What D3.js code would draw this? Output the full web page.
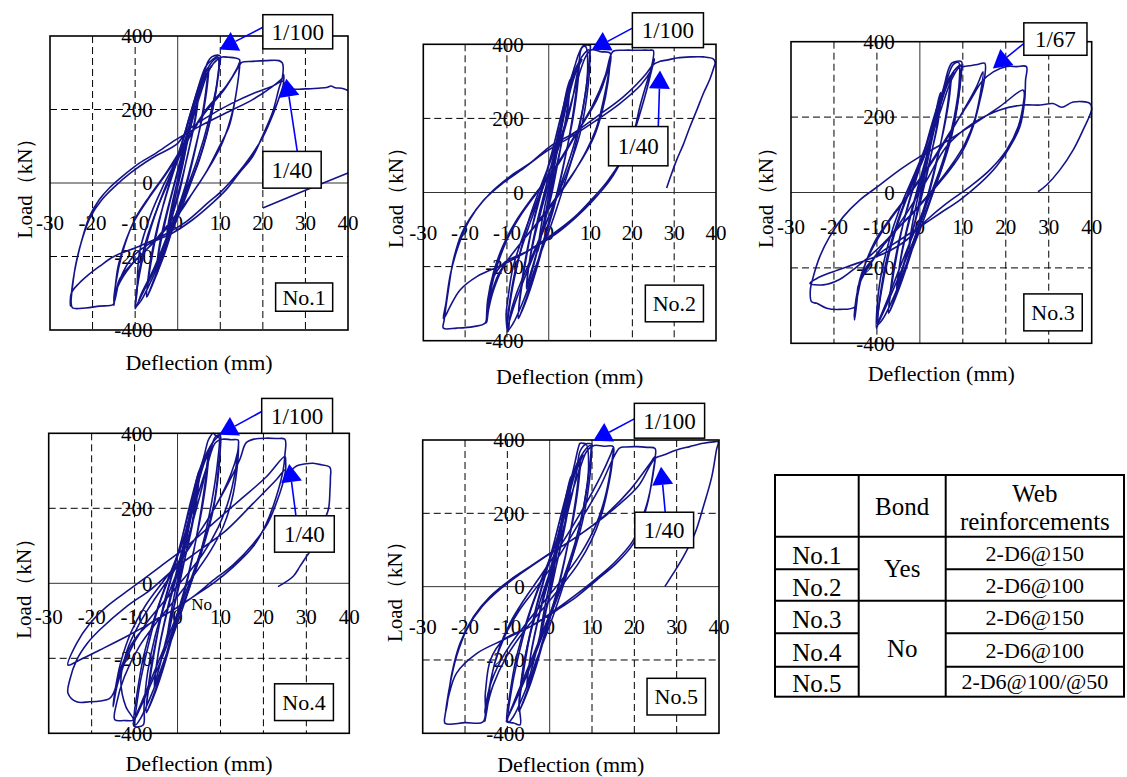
<!DOCTYPE html>
<html><head><meta charset="utf-8">
<script src="https://cdn.jsdelivr.net/npm/d3@7/dist/d3.min.js"></script>
<style>body{margin:0;background:#fff} text{font-family:"Liberation Serif","Times New Roman",serif;fill:#000}</style>
</head><body><svg id="c" width="1127" height="777"></svg>
<script>
// ---------------- DATA ----------------
const xTicks = [-30,-20,-10,0,10,20,30,40];
const yTicks = [-400,-200,0,200,400];
const gridX = [-20,-10,10,20,30];
const gridY = [-200,200];
const xTitle = "Deflection (mm)";
const yTitle = "Load（kN）";

// Specimen No.1: deflection (mm), load (kN)
const no1Path = [
 [0,0],[0.8,50],[1.6,100],[2.4,150],[2.2,120],[1.2,50],[0,-10],[-1,-60],[-2,-115],[-2.6,-150],[-2.2,-110],[-1,-40],[0,10],[1.2,70],[2.4,140],
 [3.4,190],[4.3,240],[5,262],[4.6,215],[3.5,140],[2,60],[0.5,-20],[-1,-80],[-2.6,-150],[-4,-210],[-5,-250],[-4.6,-200],[-3.4,-130],[-1.8,-50],[0,30],[1.8,110],[3.5,190],[4.8,250],
 [4.4,190],[3,110],[1.4,30],[-0.4,-50],[-2.4,-140],[-4,-205],[-4.9,-240],[-4.3,-170],[-2.8,-90],[-1,-10],[1,80],[3,170],[4.8,245],
 [6,290],[7.1,330],[8,343],[9.4,348],[10,345],[9.8,317],[8.2,199],[5.1,63],[2,-27],[-1.2,-118],[-5,-227],[-8.2,-299],[-9.7,-335],[-10,-342],[-9.6,-300],[-9,-190],[-6.2,-82],[-3.5,-10],[-0.4,63],[3.5,208],[6.6,317],[8.2,336],[9.4,343],
 [9.6,300],[7.5,180],[4.5,60],[1.2,-40],[-2,-130],[-5.5,-230],[-8.5,-300],[-9.8,-338],[-9.3,-260],[-7.5,-160],[-4.5,-60],[-1.5,20],[2,120],[5,230],[7.5,310],[9.5,338],[10.5,343],
 [12,342],[13.5,340],[14.5,336],[14.5,317],[14,264],[12.1,155],[9.8,100],[6.6,28],[3.5,-27],[0.4,-82],[-5,-154],[-10.6,-218],[-13.7,-263],[-14.8,-318],[-15,-333],[-14.8,-299],[-14,-227],[-12.1,-154],[-9.7,-91],[-6.7,-37],[-2.7,28],[1.2,100],[6.6,199],[11.4,264],[14,313],[14.6,330],
 [14.3,290],[13,200],[10.5,110],[7,35],[3,-35],[-1,-95],[-6,-165],[-11,-225],[-14,-280],[-15,-325],[-14.5,-270],[-13,-190],[-10.5,-110],[-7,-45],[-3,20],[1,90],[6,185],[11,255],[14.5,320],[15,328],
 [17.6,331],[20.7,333],[23.8,333],[24.6,326],[24.6,288],[23.8,258],[22.3,193],[20,130],[17.6,72],[14.5,28],[11.4,-18],[8.2,-54],[3.5,-100],[-1.2,-136],[-6.6,-165],[-10.5,-200],[-13.5,-260],[-14.8,-320],[-15.2,-331],[-18.4,-335],[-21.6,-340],[-24.7,-340],[-25,-330],[-25,-308],[-24.3,-245],[-22.7,-163],[-20.7,-91],[-18.4,-45],[-16,-13],[-13,18],[-9,54],[-5,82],[-0.4,118],[5.1,154],[11.4,191],[17.6,227],[22.3,263],[24.6,286],[24.9,295],
 [24.8,268],[24,238],[22.5,190],[20,125],[17,70],[14,25],[10.5,-20],[7,-55],[2,-105],[-3,-140],[-9,-172],[-15,-200],[-18.4,-227],[-21,-250],[-23.1,-272],[-25,-300],[-25.2,-335],[-24.8,-290],[-24,-225],[-22.5,-155],[-20.5,-92],[-18,-48],[-15,-12],[-11,28],[-6,68],[0,108],[2,140],[7,180],[12.9,218],[18,245],[22.5,265],[24.6,277],
 [25.5,265],[27,256],[30,256],[33,258],[35,260],[36,264],[37,259],[38.5,258],[40,252]
];
const no1Extra = [
 [0,0],[1.5,70],[3,150],[4.5,220],[6,280],[7,310],[6.6,250],[5.2,150],[3.5,60],[1.5,-30],[-0.8,-110],[-3,-190],[-5,-250],[-6.8,-300],[-7.3,-310],[-6.6,-240],[-5.2,-150],[-3.4,-60],[-1.4,20],[0.8,100],[3,190],[5.2,270],[7.2,315],[7,270],[5.8,180],[4,90],[2,0],[-0.5,-90],[-3,-180],[-5.5,-260],[-7.2,-305],[-6.5,-220],[-4.8,-120],[-2.6,-30],[-0.2,60],[2.4,160],[4.6,240],[6.5,300],[8.5,335],[9.6,340],[9.3,280],[8,190],[6,100],[3.4,10],[0.5,-80],[-2.8,-170],[-6,-260],[-8.6,-320],[-9.8,-335],[-9,-250],[-7,-150],[-4.5,-60],[-1.8,20],[1.2,100],[4,200],[6.2,280],[8,320]
];
const no1Tail = [[20,-68],[30,-20],[40,27]];

const no2Path = [
 [0,0],[0.8,60],[1.6,120],[2.4,170],[2.1,130],[1,50],[0,-10],[-1,-70],[-2,-130],[-2.6,-160],[-2.1,-110],[-0.8,-30],[0.4,30],[1.6,110],[2.6,170],
 [3.5,230],[4.4,280],[5.1,305],[4.7,250],[3.5,160],[2,70],[0.4,-20],[-1.2,-90],[-3,-170],[-4.4,-230],[-5.3,-260],[-4.8,-200],[-3.4,-120],[-1.6,-40],[0.3,40],[2.2,130],[3.8,220],[5,290],
 [4.5,220],[3,130],[1.2,40],[-0.6,-50],[-2.6,-150],[-4.4,-220],[-5.2,-250],[-4.4,-170],[-2.8,-80],[-0.8,10],[1.4,110],[3.4,210],[5,295],
 [6.2,340],[7.2,375],[8.3,396],[9.9,396],[9.9,385],[9.5,295],[7.5,160],[4.3,52],[0.3,-56],[-3.7,-164],[-7.7,-272],[-9.3,-335],[-9.6,-371],[-9.8,-376],[-10.2,-330],[-9.8,-290],[-8.5,-200],[-5.3,-92],[-2.1,-2],[1.9,106],[5.1,223],[7.1,340],[7.9,390],[8.8,394],
 [9.3,330],[8.2,230],[5.8,120],[2.5,10],[-1,-95],[-4.5,-195],[-7.8,-290],[-9.5,-350],[-10,-368],[-9.4,-300],[-7.8,-200],[-5,-100],[-1.8,0],[1.8,110],[4.8,220],[7.3,320],[9,370],[10.3,385],
 [12.5,380],[14.7,376],[14.3,322],[13.1,250],[11.5,178],[9.1,115],[5.9,52],[2.7,-2],[-1.3,-65],[-6.1,-128],[-10.8,-200],[-13.2,-263],[-14.4,-317],[-14.8,-348],[-15,-352],[-14.4,-300],[-14,-272],[-12.4,-200],[-10,-128],[-6.9,-65],[-2.9,-2],[1.9,70],[6.7,160],[11.5,250],[13.9,322],[14.7,367],
 [14.2,300],[12.8,220],[10.8,150],[8,90],[4.5,30],[1,-25],[-3,-85],[-8,-155],[-12,-220],[-14,-285],[-14.8,-335],[-14.6,-290],[-13.2,-215],[-11,-145],[-8,-80],[-4,-15],[0.5,50],[5.5,140],[10.5,235],[13.5,315],[14.8,370],
 [15.5,382],[18,384],[21,384],[24,384],[25,383],[24.6,340],[23.4,295],[21.8,232],[20.3,160],[17.9,97],[14.7,34],[10.7,-20],[6.7,-65],[1.9,-110],[-4.5,-155],[-10.8,-191],[-13.6,-240],[-14.8,-320],[-15.2,-352],[-18,-362],[-22,-366],[-25.2,-366],[-25,-344],[-24,-263],[-22.8,-182],[-20.8,-110],[-18,-56],[-14,-2],[-9.3,43],[-4.5,79],[0.3,124],[5.9,160],[11.5,205],[17.9,259],[23.4,322],[25,349],[25.3,360],
 [24.6,330],[23.5,280],[22,220],[20,150],[17.5,90],[14,30],[10,-22],[6,-68],[1,-112],[-5,-158],[-11,-195],[-17.2,-227],[-21.2,-263],[-23.6,-308],[-24.8,-335],[-25.2,-340],[-24.6,-300],[-23.5,-220],[-21.5,-140],[-19,-75],[-15.5,-20],[-11,25],[-6,65],[-1,108],[5,148],[11,192],[17,240],[22,290],[24.5,330],[25,345],
 [26.6,354],[28.5,358],[30.6,363],[34,366],[37,366],[39.4,360],[39.8,350],[39.5,338],[38.5,305],[37,268],[35.5,225],[33.8,178],[32.2,130],[30.6,88],[29.2,45],[28.2,12]
];
const no2Extra = [
 [0,0],[1.5,80],[3,170],[4.5,250],[6,315],[7,345],[6.6,280],[5.2,170],[3.5,70],[1.5,-30],[-0.8,-120],[-3,-210],[-5,-280],[-6.8,-330],[-7.3,-340],[-6.6,-265],[-5.2,-165],[-3.4,-65],[-1.4,20],[0.8,110],[3,210],[5.2,300],[7.2,350],[7,300],[5.8,200],[4,100],[2,0],[-0.5,-100],[-3,-200],[-5.5,-290],[-7.2,-335],[-6.5,-245],[-4.8,-135],[-2.6,-35],[-0.2,65],[2.4,180],[4.6,270],[6.5,335],[8.5,375],[9.6,385],[9.3,315],[8,215],[6,110],[3.4,10],[0.5,-90],[-2.8,-190],[-6,-290],[-8.6,-355],[-9.8,-372],[-9,-280],[-7,-170],[-4.5,-65],[-1.8,20],[1.2,110],[4,225],[6.2,315],[8,360]
];
const no2Tail = [];

const no3Path = [
 [0,0],[0.8,50],[1.6,100],[2.4,140],[2,100],[1,40],[0,-15],[-1,-70],[-2,-120],[-2.6,-150],[-2,-100],[-0.8,-30],[0.4,30],[1.6,100],[2.6,150],
 [3.5,200],[4.3,245],[4.8,265],[4.3,200],[3,120],[1.5,40],[0,-30],[-1.6,-100],[-3.2,-170],[-4.6,-230],[-5.4,-260],[-4.8,-200],[-3.4,-120],[-1.6,-40],[0.2,30],[2,110],[3.6,190],[4.8,255],
 [4.3,190],[2.8,110],[1,20],[-1,-70],[-3,-160],[-4.6,-220],[-5.2,-245],[-4.4,-170],[-2.8,-85],[-0.8,0],[1.4,90],[3.4,180],[4.9,250],
 [5.8,290],[6.6,325],[7.4,343],[8.1,347],[9.7,347],[9.6,320],[9,250],[7.4,150],[5,60],[2,-30],[-1.2,-120],[-4.6,-215],[-7.8,-300],[-9.6,-345],[-10.1,-360],[-10,-310],[-9.2,-230],[-7.2,-130],[-4.6,-40],[-1.6,40],[1.6,130],[4.4,230],[6.6,310],[7.8,340],[9,345],
 [9.2,300],[8,200],[5.8,100],[3,10],[-0.4,-80],[-4,-180],[-7.4,-280],[-9.4,-335],[-9.8,-345],[-9.2,-270],[-7.6,-170],[-5,-70],[-2,20],[1.4,110],[4.6,210],[7.4,300],[9.4,335],[10.1,334],
 [12,337],[13.6,340],[15.1,343],[15.1,307],[14,245],[12.4,175],[10.1,113],[7,60],[3.1,7],[-1.6,-55],[-6.2,-108],[-10.9,-179],[-14,-241],[-15.1,-303],[-15.2,-338],[-14.7,-294],[-14,-232],[-11.6,-161],[-8.5,-99],[-4.7,-38],[0,33],[4.7,113],[9.3,201],[13.2,281],[14.7,320],
 [14.2,270],[12.8,195],[10.5,130],[7.5,75],[3.5,15],[-1,-45],[-5.5,-100],[-10.5,-170],[-13.8,-235],[-15,-300],[-15.3,-330],[-14.6,-280],[-13,-200],[-10.5,-130],[-7,-70],[-3,-10],[2,70],[7,160],[11.5,240],[14.5,295],[17.1,320],
 [20.2,334],[22.5,334],[24.8,334],[24.6,298],[24.4,245],[23.3,175],[21,122],[17.8,69],[14,24],[9.3,-20],[4.7,-55],[0,-91],[-4.7,-126],[-9.3,-161],[-12.4,-197],[-14.4,-250],[-15.1,-303],[-18.6,-310],[-21.7,-307],[-24,-294],[-25.2,-290],[-25.5,-259],[-24.8,-223],[-23.3,-170],[-21,-117],[-17.8,-64],[-14,-20],[-9.3,20],[-4.7,60],[0,95],[5.4,130],[11.6,175],[18.6,228],[24,272],[24.3,265],
 [24.2,245],[22.9,175],[20.2,113],[16.3,60],[11.6,15],[6.2,-29],[1.6,-73],[-3.1,-126],[-8,-160],[-14.7,-188],[-20.2,-210],[-24,-228],[-25.6,-241],[-22.5,-245],[-18.6,-230],[-14.7,-197],[-10.9,-161],[-6.5,-110],[-3.1,-55],[1.6,33],[6.2,122],[12.4,184],[18.6,219],[24,232],[28,232],[31,236],[33,226],[35.7,240],[39.6,236],[40,222],[38,166],[35.7,113],[32.6,60],[29.5,20],[27.5,2]
];
const no3Extra = [
 [0,0],[1.5,70],[3,150],[4.5,220],[6,280],[7,305],[6.6,245],[5.2,150],[3.5,60],[1.5,-30],[-0.8,-115],[-3,-195],[-5,-260],[-6.8,-310],[-7.3,-320],[-6.6,-250],[-5.2,-155],[-3.4,-60],[-1.4,20],[0.8,100],[3,190],[5.2,265],[7.2,310],[7,265],[5.8,180],[4,90],[2,0],[-0.5,-95],[-3,-185],[-5.5,-270],[-7.2,-315],[-6.5,-230],[-4.8,-125],[-2.6,-30],[-0.2,60],[2.4,160],[4.6,240],[6.5,295],[8.5,330],[9.6,338],[9.3,280],[8,190],[6,100],[3.4,10],[0.5,-85],[-2.8,-180],[-6,-275],[-8.6,-335],[-9.8,-350],[-9,-265],[-7,-155],[-4.5,-60],[-1.8,20],[1.2,100],[4,200],[6.2,280],[8,320]
];
const no3Tail = [];

const no4Path = [
 [0,0],[0.8,60],[1.6,115],[2.4,165],[2,120],[1,50],[0,-15],[-1,-75],[-2,-130],[-2.6,-160],[-2,-110],[-0.8,-35],[0.4,30],[1.6,110],[2.6,170],
 [3.5,225],[4.4,275],[5,300],[4.5,240],[3.2,150],[1.6,60],[0,-25],[-1.6,-100],[-3.2,-175],[-4.6,-240],[-5.4,-275],[-4.8,-210],[-3.4,-125],[-1.6,-40],[0.3,40],[2.2,130],[3.8,215],[5,290],
 [4.4,215],[2.9,125],[1.1,35],[-0.8,-60],[-2.8,-160],[-4.5,-235],[-5.3,-265],[-4.4,-180],[-2.8,-90],[-0.8,5],[1.4,105],[3.4,205],[5,290],
 [6.2,340],[7.1,380],[7.6,391],[8.3,400],[9,392],[9.5,391],[9.9,400],[10,385],[9.6,300],[8.2,190],[5.8,90],[2.8,-10],[-0.6,-110],[-4,-210],[-7.4,-300],[-9.4,-350],[-10.3,-373],[-10,-382],[-8,-378],[-7.8,-330],[-7,-240],[-5.2,-140],[-2.8,-50],[0.2,40],[3.2,150],[5.8,260],[7.6,350],[8.8,390],[9.9,395],
 [9.6,320],[8.6,220],[6.4,120],[3.4,20],[0,-80],[-3.6,-185],[-7,-280],[-9.4,-345],[-10.2,-365],[-9.5,-300],[-8,-200],[-5.6,-100],[-2.6,0],[0.8,100],[4,210],[6.8,310],[8.8,375],[10.4,384],
 [12.5,383],[14.1,382],[14.2,369],[13.8,300],[12.6,220],[10.6,150],[7.6,85],[4,25],[0,-35],[-4.6,-100],[-9,-170],[-12.4,-250],[-14.2,-320],[-14.6,-364],[-12.5,-366],[-10.3,-364],[-12,-330],[-13.2,-260],[-11.8,-180],[-9,-110],[-5.2,-40],[-1,30],[3.6,110],[8.6,200],[12.4,290],[14,350],[14.2,369],
 [13.6,310],[12,225],[9.5,150],[6,80],[2,20],[-2.5,-40],[-7.5,-110],[-11.5,-190],[-14,-270],[-15,-329],[-14.6,-290],[-13.2,-210],[-10.8,-130],[-7.5,-60],[-3,10],[2,85],[7,170],[11.5,260],[14.5,330],[16,375],
 [18,385],[20.7,387],[23,386],[25,384],[25,342],[24.6,302],[23,231],[20.7,160],[17.6,98],[13,44],[8.3,0],[3.6,-36],[-1,-71],[-6.4,-107],[-10,-150],[-13,-220],[-14.8,-290],[-15.8,-307],[-18,-314],[-20.4,-316],[-23.5,-316],[-25.5,-293],[-25.1,-258],[-23.5,-205],[-21,-160],[-18.1,-124],[-11.9,-62],[-6.4,-18],[-1,36],[5.2,89],[11.4,142],[17.6,213],[23,276],[25,302],
 [24.8,280],[23.2,220],[21,160],[17.6,105],[13,50],[8,5],[3.6,-36],[-1,-71],[-6.4,-107],[-11.9,-142],[-18.1,-178],[-22.7,-204],[-25.5,-218],[-23.5,-160],[-20.4,-107],[-16.5,-62],[-10.3,-9],[-4.1,44],[2.1,98],[8.3,160],[14.5,222],[20.7,284],[25,338],[25.2,320],[25.4,293],
 [27.7,313],[29.5,318],[31.6,320],[33.5,316],[35.5,309],[35.6,280],[35.5,249],[35.1,196],[33.1,142],[31.6,98],[30,71],[28.5,45],[26.9,18],[23.4,-9]
];
const no4Extra = [
 [0,0],[1.5,80],[3,170],[4.5,250],[6,320],[7,350],[6.6,285],[5.2,175],[3.5,70],[1.5,-30],[-0.8,-125],[-3,-215],[-5,-285],[-6.8,-335],[-7.3,-345],[-6.6,-270],[-5.2,-170],[-3.4,-65],[-1.4,20],[0.8,110],[3,215],[5.2,305],[7.2,355],[7,305],[5.8,205],[4,100],[2,0],[-0.5,-100],[-3,-205],[-5.5,-295],[-7.2,-340],[-6.5,-250],[-4.8,-140],[-2.6,-35],[-0.2,65],[2.4,180],[4.6,275],[6.5,340],[8.5,380],[9.6,390],[9.3,320],[8,220],[6,110],[3.4,10],[0.5,-90],[-2.8,-195],[-6,-295],[-8.6,-360],[-9.8,-378],[-9,-285],[-7,-175],[-4.5,-65],[-1.8,20],[1.2,110],[4,230],[6.2,320],[8,365]
];
const no4Tail = [];

const no5Path = [
 [0,0],[0.8,60],[1.6,115],[2.4,165],[2,120],[1,50],[0,-15],[-1,-75],[-2,-130],[-2.6,-160],[-2,-110],[-0.8,-35],[0.4,30],[1.6,110],[2.6,170],
 [3.5,225],[4.4,275],[5,300],[4.5,240],[3.2,150],[1.6,60],[0,-25],[-1.6,-100],[-3.2,-175],[-4.6,-240],[-5.4,-275],[-4.8,-210],[-3.4,-125],[-1.6,-40],[0.3,40],[2.2,130],[3.8,215],[5,290],
 [4.4,215],[2.9,125],[1.1,35],[-0.8,-60],[-2.8,-160],[-4.5,-235],[-5.3,-265],[-4.4,-180],[-2.8,-90],[-0.8,5],[1.4,105],[3.4,205],[5,290],
 [6,340],[6.8,380],[7.2,391],[8.5,390],[9.9,389],[9.9,370],[9.4,290],[7.8,180],[5.2,75],[2,-25],[-1.4,-125],[-4.8,-225],[-8,-310],[-9.8,-355],[-10.2,-368],[-8.5,-372],[-7,-377],[-7.2,-320],[-6.4,-230],[-4.6,-130],[-2,-30],[1.2,80],[4.2,200],[6.2,300],[7.2,370],[8.6,388],
 [9.2,330],[8.2,230],[6,120],[3,15],[-0.5,-90],[-4,-190],[-7.4,-285],[-9.5,-345],[-10.2,-362],[-9.5,-300],[-8,-200],[-5.6,-100],[-2.6,0],[0.8,100],[4,210],[6.8,310],[8.8,370],[10.5,385],
 [12.8,383],[15,382],[14.8,340],[13.8,270],[12.2,195],[9.8,125],[6.6,60],[3,5],[-1.2,-55],[-6,-120],[-10.4,-195],[-13.4,-270],[-14.8,-330],[-15.3,-368],[-14.6,-320],[-13.8,-250],[-12,-170],[-9.4,-100],[-6,-35],[-1.8,35],[3,120],[8,215],[12,300],[14.4,360],[15,378],
 [14.4,320],[13,240],[10.8,165],[7.6,95],[3.6,30],[-0.6,-30],[-5.5,-100],[-10.5,-180],[-13.8,-260],[-15.2,-330],[-15.3,-345],[-14.5,-290],[-13,-210],[-10.6,-135],[-7.2,-65],[-3,0],[2,80],[7,175],[11.8,270],[15,350],[16.5,378],
 [18,381],[20.6,382],[23,380],[24.9,377],[24.9,350],[24.5,318],[23.3,236],[21.7,173],[19.8,118],[15.8,64],[11.1,18],[6.4,-27],[1.7,-64],[-4.6,-109],[-10.9,-145],[-14,-200],[-15.2,-290],[-15.7,-368],[-20,-371],[-24.7,-373],[-24.7,-350],[-24.3,-327],[-23.1,-236],[-21.2,-155],[-18,-82],[-14.1,-27],[-9.4,18],[-4.6,55],[0.1,91],[6.4,136],[12.7,191],[19,264],[23.7,336],[24.9,355],
 [24.6,320],[23.3,240],[21.5,175],[19.5,122],[15.5,68],[11,22],[6,-24],[1,-66],[-4.6,-109],[-10.9,-145],[-17.2,-182],[-22,-236],[-23.9,-300],[-24.7,-350],[-23.6,-270],[-22,-190],[-19.5,-115],[-16,-55],[-11.5,-5],[-6.5,38],[-1.5,78],[4,118],[10,165],[16,220],[21,275],[24.9,350],
 [26.9,359],[30,373],[33.1,382],[36.3,391],[38.7,395],[39.8,395],[39.4,373],[38.3,300],[36.3,218],[34.3,145],[31.6,82],[29.2,36],[27.2,0]
];
const no5Extra = [
 [0,0],[1.5,80],[3,170],[4.5,250],[6,315],[7,345],[6.6,280],[5.2,170],[3.5,70],[1.5,-30],[-0.8,-120],[-3,-210],[-5,-280],[-6.8,-330],[-7.3,-340],[-6.6,-265],[-5.2,-165],[-3.4,-65],[-1.4,20],[0.8,110],[3,210],[5.2,300],[7.2,350],[7,300],[5.8,200],[4,100],[2,0],[-0.5,-100],[-3,-200],[-5.5,-290],[-7.2,-335],[-6.5,-245],[-4.8,-135],[-2.6,-35],[-0.2,65],[2.4,180],[4.6,270],[6.5,335],[8.5,375],[9.6,385],[9.3,315],[8,215],[6,110],[3.4,10],[0.5,-90],[-2.8,-190],[-6,-290],[-8.6,-355],[-9.8,-370],[-9,-280],[-7,-170],[-4.5,-65],[-1.8,20],[1.2,110],[4,225],[6.2,315],[8,360]
];
const no5Tail = [];

// drift-angle call-outs: label, box (x0,x1,y0,y1 in panel data units), arrow start, arrow tip
const no1Notes = [
 {text:"1/100", box:[20,36.4,458,365], from:[19.9,423], to:[9.8,363]},
 {text:"1/40",  box:[20,33.7,86,-14],  from:[28.1,85],  to:[25.5,284]}
];
const no2Notes = [
 {text:"1/100", box:[20,37,485,391],   from:[19.9,443], to:[10.3,385]},
 {text:"1/40",  box:[14.3,28.5,178,72],from:[26.2,178], to:[26.6,329]}
];
const no3Notes = [
 {text:"1/67",  box:[24.2,38.9,450,364],from:[24.4,397],to:[17,329]}
];
const no4Notes = [
 {text:"1/100", box:[19.6,36.1,493,400],from:[19.6,458],to:[9.7,396]},
 {text:"1/40",  box:[22.6,36.5,180,83], from:[27.6,178],to:[26,318]}
];
const no5Notes = [
 {text:"1/100", box:[20,36.6,500,405],  from:[20.2,459],to:[10.3,398]},
 {text:"1/40",  box:[20.1,34,203,106],  from:[27.3,203],to:[26.3,327]}
];
const specimenTags = ["No.1","No.2","No.3","No.4","No.5"];
const tagBoxes = [[23,36.4,-272,-349],[23.1,37,-250,-349],[24.2,37.8,-269,-367],[22.6,36.3,-268,-366],[23,36.8,-250,-350]];
const strayTexts = [null,null,null,{text:"No",x:5.6,y:-55},null];

// table
const tableHeader = ["", "Bond", "Web|reinforcements"];
const tableRows = ["No.1","No.2","No.3","No.4","No.5"];
const bondGroups = [["Yes",0,2],["No",2,5]];
const webReinf = ["2-D6@150","2-D6@100","2-D6@150","2-D6@100","2-D6@100/@50"];

// ---------------- LAYOUT ----------------
const layouts = [
 {l:50,   r:348,   t:36,    b:330,   tickDy:40, titleDy:32, yTitleDx:25},
 {l:423.3,r:716,   t:44.3,  b:340.7, tickDy:40, titleDy:36, yTitleDx:28},
 {l:791,  r:1091.7,t:41.7,  b:343.3, tickDy:34, titleDy:30, yTitleDx:25},
 {l:48.7, r:349.3, t:433.3, b:733.3, tickDy:33, titleDy:30, yTitleDx:25},
 {l:422.7,r:719,   t:440,   b:733.3, tickDy:40, titleDy:31, yTitleDx:28}
];
const paths = [no1Path,no2Path,no3Path,no4Path,no5Path];
const extras = [no1Extra,no2Extra,no3Extra,no4Extra,no5Extra];
const tails = [no1Tail,no2Tail,no3Tail,no4Tail,no5Tail];
const notes = [no1Notes,no2Notes,no3Notes,no4Notes,no5Notes];

const CURVE = "#13138a", BLUE = "#0000ff";
const svg = d3.select("#c");
svg.append("rect").attr("width",1127).attr("height",777).attr("fill","#fff");

function arrow(g, S, T){
  const dx=T[0]-S[0], dy=T[1]-S[1], len=Math.hypot(dx,dy), ux=dx/len, uy=dy/len;
  const hl=18, hw=10.5;
  const B=[T[0]-ux*hl, T[1]-uy*hl], nx=-uy, ny=ux;
  g.append("line").attr("x1",S[0]).attr("y1",S[1]).attr("x2",B[0]).attr("y2",B[1])
    .attr("stroke",BLUE).attr("stroke-width",1.6);
  g.append("path").attr("d",`M${T[0]},${T[1]}L${B[0]+nx*hw},${B[1]+ny*hw}L${B[0]-nx*hw},${B[1]-ny*hw}Z`)
    .attr("fill",BLUE);
}

layouts.forEach((L,i)=>{
  const x = d3.scaleLinear().domain([-30,40]).range([L.l,L.r]);
  const y = d3.scaleLinear().domain([-400,400]).range([L.b,L.t]);
  const g = svg.append("g");
  g.selectAll(null).data(gridX).join("line")
    .attr("x1",d=>x(d)).attr("x2",d=>x(d)).attr("y1",L.t).attr("y2",L.b)
    .attr("stroke","#000").attr("stroke-width",1).attr("stroke-dasharray","7,4");
  g.selectAll(null).data(gridY).join("line")
    .attr("y1",d=>y(d)).attr("y2",d=>y(d)).attr("x1",L.l).attr("x2",L.r)
    .attr("stroke","#000").attr("stroke-width",1).attr("stroke-dasharray","7,4");
  g.append("line").attr("x1",x(0)).attr("x2",x(0)).attr("y1",L.t).attr("y2",L.b).attr("stroke","#333").attr("stroke-width",1);
  g.append("line").attr("y1",y(0)).attr("y2",y(0)).attr("x1",L.l).attr("x2",L.r).attr("stroke","#333").attr("stroke-width",1);

  g.selectAll(null).data(xTicks).join("text")
    .attr("x",d=>x(d)).attr("y",y(0)+L.tickDy).attr("dy","0.35em")
    .attr("text-anchor","middle").attr("font-size",21).text(d=>d);
  g.selectAll(null).data(yTicks).join("text")
    .attr("x",x(0)-25).attr("y",d=>y(d)).attr("dy","0.35em")
    .attr("text-anchor","end").attr("font-size",21).text(d=>d);

  const line = d3.line().x(d=>x(d[0])).y(d=>y(d[1])).curve(d3.curveCatmullRom.alpha(0.5));
  [extras[i], paths[i], tails[i]].forEach(p=>{
    if (p.length) g.append("path").attr("d",line(p)).attr("fill","none").attr("stroke",CURVE)
      .attr("stroke-width",1.6).attr("stroke-linejoin","round");
  });

  g.append("rect").attr("x",L.l).attr("y",L.t).attr("width",L.r-L.l).attr("height",L.b-L.t)
    .attr("fill","none").attr("stroke","#000").attr("stroke-width",1.6);

  g.append("text").attr("x",(L.l+L.r)/2).attr("y",L.b+L.titleDy).attr("dy","0.35em")
    .attr("text-anchor","middle").attr("font-size",22).text(xTitle);
  g.append("text").attr("transform",`translate(${L.l-L.yTitleDx},${y(0)}) rotate(-90)`).attr("dy","0.35em")
    .attr("text-anchor","middle").attr("font-size",21).text(yTitle);

  notes[i].forEach(n=>{
    arrow(g,[x(n.from[0]),y(n.from[1])],[x(n.to[0]),y(n.to[1])]);
    const bx=x(n.box[0]), by=y(n.box[2]), bw=x(n.box[1])-bx, bh=y(n.box[3])-by;
    g.append("rect").attr("x",bx).attr("y",by).attr("width",bw).attr("height",bh)
      .attr("fill","#fff").attr("stroke","#000").attr("stroke-width",1.5);
    g.append("text").attr("x",bx+bw/2).attr("y",by+bh/2).attr("dy","0.35em")
      .attr("text-anchor","middle").attr("font-size",23).text(n.text);
  });
  const tb = tagBoxes[i];
  const tx=x(tb[0]), ty=y(tb[2]), tw=x(tb[1])-tx, th=y(tb[3])-ty;
  g.append("rect").attr("x",tx).attr("y",ty).attr("width",tw).attr("height",th)
    .attr("fill","#fff").attr("stroke","#000").attr("stroke-width",1.5);
  g.append("text").attr("x",tx+tw/2).attr("y",ty+th/2).attr("dy","0.35em")
    .attr("text-anchor","middle").attr("font-size",22).text(specimenTags[i]);
  if (strayTexts[i]) {
    const s=strayTexts[i];
    g.append("text").attr("x",x(s.x)).attr("y",y(s.y)).attr("dy","0.35em")
      .attr("text-anchor","middle").attr("font-size",17).text(s.text);
  }
});

// ---------------- TABLE ----------------
const cols = [775, 858.7, 945.7, 1124];
const rows = [475, 536.7, 569.3, 600.7, 633.3, 666.7, 696.7];
const tg = svg.append("g");
const TL = (x1,y1,x2,y2)=>tg.append("line").attr("x1",x1).attr("y1",y1).attr("x2",x2).attr("y2",y2).attr("stroke","#000").attr("stroke-width",2);
tg.append("rect").attr("x",cols[0]).attr("y",rows[0]).attr("width",cols[3]-cols[0]).attr("height",rows[6]-rows[0])
  .attr("fill","none").attr("stroke","#000").attr("stroke-width",2);
TL(cols[1],rows[0],cols[1],rows[6]); TL(cols[2],rows[0],cols[2],rows[6]);
TL(cols[0],rows[1],cols[3],rows[1]);
for (let r=2;r<=5;r++){ TL(cols[0],rows[r],cols[1],rows[r]); TL(cols[2],rows[r],cols[3],rows[r]); }
TL(cols[1],rows[3],cols[2],rows[3]);
const hdrY = (rows[0]+rows[1])/2;
tg.append("text").attr("x",(cols[1]+cols[2])/2).attr("y",hdrY).attr("dy","0.35em").attr("text-anchor","middle").attr("font-size",25).text(tableHeader[1]);
const wh = tableHeader[2].split("|");
tg.append("text").attr("x",(cols[2]+cols[3])/2).attr("y",hdrY-13).attr("dy","0.35em").attr("text-anchor","middle").attr("font-size",25).text(wh[0]);
tg.append("text").attr("x",(cols[2]+cols[3])/2).attr("y",hdrY+15).attr("dy","0.35em").attr("text-anchor","middle").attr("font-size",25).text(wh[1]);
tableRows.forEach((t,k)=>{
  const cy=(rows[k+1]+rows[k+2])/2;
  tg.append("text").attr("x",(cols[0]+cols[1])/2).attr("y",cy+2).attr("dy","0.35em").attr("text-anchor","middle").attr("font-size",25).text(t);
  tg.append("text").attr("x",(cols[2]+cols[3])/2).attr("y",cy).attr("dy","0.35em").attr("text-anchor","middle").attr("font-size",22).text(webReinf[k]);
});
bondGroups.forEach(([t,a,b])=>{
  const cy=(rows[a+1]+rows[b+1])/2;
  tg.append("text").attr("x",(cols[1]+cols[2])/2).attr("y",cy).attr("dy","0.35em").attr("text-anchor","middle").attr("font-size",25).text(t);
});
</script></body></html>
